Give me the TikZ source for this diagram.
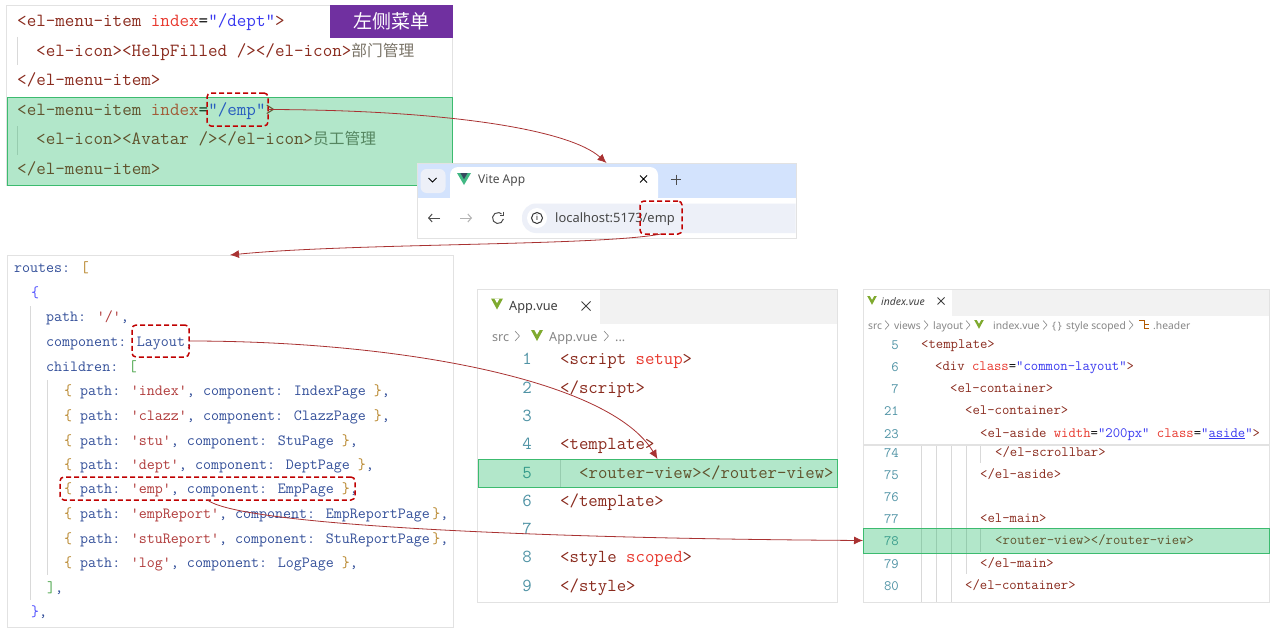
\documentclass[tikz,border=0pt]{standalone}
\usepackage{fontspec}
\usepackage{xcolor}
\setsansfont{Noto Sans}
\newfontfamily\cjk{Noto Sans CJK SC}
\usetikzlibrary{arrows.meta,positioning,calc}

\definecolor{tagbrown}{HTML}{8A2B1E}
\definecolor{attrred}{HTML}{E8392F}
\definecolor{strblue}{HTML}{3A3AF0}
\definecolor{keyblue}{HTML}{34509A}
\definecolor{strred}{HTML}{B03A3A}
\definecolor{bracegold}{HTML}{B8862B}
\definecolor{numteal}{HTML}{4F93A5}
\definecolor{guidegray}{HTML}{D9D9D9}
\definecolor{panelgray}{HTML}{E2E2E2}
\definecolor{rowgreen}{HTML}{00B050}
\definecolor{rowedge}{HTML}{3CBB6F}
\definecolor{dashred}{HTML}{C00000}
\definecolor{linkred}{HTML}{A93232}
\definecolor{crumbgray}{HTML}{868686}
\definecolor{cjkgray}{HTML}{7A7468}
\definecolor{tabblue}{HTML}{D3E3FD}
\definecolor{addrblue}{HTML}{EDF0F8}
\definecolor{menupurple}{HTML}{7030A0}
\definecolor{vueolive}{HTML}{7FAA2F}
\definecolor{vueteal}{HTML}{41B883}
\definecolor{vuenavy}{HTML}{35495E}

\newcommand{\tg}[1]{\textcolor{tagbrown}{#1}}
\newcommand{\at}[1]{\textcolor{attrred}{#1}}
\newcommand{\st}[1]{\textcolor{strblue}{#1}}
\newcommand{\ky}[1]{\textcolor{keyblue}{#1}}
\newcommand{\sr}[1]{\textcolor{strred}{#1}}
\newcommand{\bc}[1]{\textcolor{bracegold}{#1}}
\newcommand{\route}[3]{\bc{\{} \ky{path:} \sr{'#1'}\ky{,} \ky{component:} \ky{#2}#3\bc{\}}\ky{,}}

\begin{document}
\begin{tikzpicture}[
    x=1pt, y=-1pt,
    panel/.style={draw=panelgray, fill=white, line width=1pt, inner sep=0pt, outer sep=0pt, anchor=north west},
    menucode/.style={font=\fontsize{18.55}{20}\ttfamily, inner sep=0pt, anchor=base west},
    routecode/.style={font=\fontsize{15.55}{18}\ttfamily, inner sep=0pt, anchor=base west},
    appcode/.style={font=\fontsize{18.3}{20}\ttfamily, inner sep=0pt, anchor=base west},
    indexcode/.style={font=\fontsize{14.3}{16}\ttfamily, inner sep=0pt, anchor=base west},
    appnum/.style={font=\fontsize{18.3}{20}\ttfamily, text=numteal, inner sep=0pt, anchor=base},
    indexnum/.style={font=\fontsize{14.3}{16}\ttfamily, text=numteal, inner sep=0pt, anchor=base east},
    crumb/.style={font=\sffamily\fontsize{10.3}{12}\selectfont, text=crumbgray, inner sep=0pt, anchor=base west},
    appcrumb/.style={crumb, font=\sffamily\fontsize{12.6}{14}\selectfont},
    guide/.style={draw=guidegray, line width=1pt},
    chev/.style={draw=crumbgray, line width=.6pt},
    greenrow/.style={draw=rowedge, fill=rowgreen, fill opacity=.3, line width=.9pt, inner sep=0pt, outer sep=0pt, anchor=north west},
    redbox/.style={draw=dashred, dashed, dash pattern=on 5pt off 3pt, rounded corners=4pt, line width=1.5pt, inner sep=0pt, outer sep=0pt},
    link/.style={draw=linkred, line width=.8pt, -{Latex[length=9pt,width=8pt]}},
    vueicon/.pic={
      \fill[vueteal] (-7,-6) -- (7,-6) -- (0,6) -- cycle;
      \fill[vuenavy] (-3.6,-6) -- (3.6,-6) -- (0,.2) -- cycle;
    },
    vuefile/.pic={
      \fill[vueolive] (-6,-5) -- (6,-5) -- (0,6) -- cycle;
      \fill[white] (-2.6,-5) -- (2.6,-5) -- (0,-.4) -- cycle;
    },
  ]
    \useasboundingbox (0,0) rectangle (1280,634);

    % menu
    \node[panel, minimum width=446pt, minimum height=179pt] (menu) at (6,6) {};
    \draw[guide] (17,37) -- (17,65);
    \draw[guide] (17,126) -- (17,155);
    \node[menucode] (m1) at (17,27) {\tg{<el-menu-item} \at{index}=\st{"/dept"}\tg{>}};
    \node[menucode] (m2) at (36,57) {\tg{<el-icon><HelpFilled /></el-icon>}\textcolor{cjkgray}{\cjk\fontsize{15.7}{16}\selectfont 部门管理}};
    \node[menucode] (m3) at (17,85) {\tg{</el-menu-item>}};
    \node[menucode] (m4) at (17,115) {\tg{<el-menu-item} \at{index}=\st{"/emp"}\tg{>}};
    \node[menucode] (m5) at (36,144) {\tg{<el-icon><Avatar /></el-icon>}\textcolor{cjkgray}{\cjk\fontsize{15.7}{16}\selectfont 员工管理}};
    \node[menucode] (m6) at (17,174) {\tg{</el-menu-item>}};
    \node[greenrow, minimum width=445pt, minimum height=88pt] (menurow) at (7,97) {};
    \node[fill=menupurple, text=white, font=\cjk\fontsize{19}{20}\selectfont,
      minimum width=123pt, minimum height=33pt, inner sep=0pt, anchor=north west] (menutag) at (330,5) {左侧菜单};
    \node[redbox, minimum width=61pt, minimum height=33pt] (idxbox) at (237.5,109.5) {};

    % browser
    \node[panel, minimum width=379pt, minimum height=75pt] (browser) at (417,163) {};
    \fill[tabblue] (417.5,163.5) rectangle (795.5,198);
    \fill[white] (417.5,198) rectangle (795.5,237.5);
    \node[fill=addrblue, rounded corners=6pt, minimum width=25pt, minimum height=24pt, inner sep=0pt] (tabmenu) at (433,181) {};
    \draw[line width=1pt] (428.5,178) -- (432.5,182) -- (436.5,178);
    \fill[white, rounded corners=8pt] (450,167) rectangle (658,205);
    \pic at (464,179) {vueicon};
    \node[font=\sffamily\fontsize{12}{14}\selectfont, text=black!70, inner sep=0pt, anchor=west] (tabtitle) at (478,181) {Vite App};
    \draw[line width=1pt] (640,175.5) -- (647,182.5) (647,175.5) -- (640,182.5);
    \draw[line width=1pt, black!70] (671,179.5) -- (681,179.5) (676,174.5) -- (676,184.5);
    \draw[line width=1pt, black!70, -{Straight Barb[length=3.5pt,width=8pt]}] (440,218) -- (428,218);
    \draw[line width=1pt, black!30, -{Straight Barb[length=3.5pt,width=8pt]}] (460,218) -- (472,218);
    \draw[line width=1pt, black!70] (503.4,219) arc[start angle=10, end angle=310, radius=5.5];
    \draw[line width=1pt, black!70] (503.5,211.5) -- (503.5,215.5) -- (499.5,215.5);
    \begin{scope}
      \clip (417.5,198) rectangle (795.5,237.5);
      \fill[addrblue, rounded corners=14pt] (522,203.5) rectangle (830,233);
    \end{scope}
    \node[circle, fill=white, minimum size=20pt, inner sep=0pt] (infopad) at (537,218) {};
    \node[circle, draw=black!80, line width=1pt, minimum size=11pt, inner sep=0pt, font=\sffamily\bfseries\fontsize{7.5}{8}\selectfont] (infoicon) at (537,218) {i};
    \node[font=\sffamily\fontsize{12.9}{14}\selectfont, text=black!72, inner sep=0pt, anchor=west] (urltext) at (555,219) {localhost:5173/emp};
    \node[redbox, minimum width=42pt, minimum height=33pt] (urlbox) at (661,217.5) {};

    % routes
    \node[panel, minimum width=446pt, minimum height=372pt] (routes) at (7,255) {};
    \draw[guide] (30,306) -- (30,600);
    \draw[guide] (47,380) -- (47,575);
    \node[routecode] (r1) at (14,272) {\ky{routes:} \bc{[}};
    \node[routecode] (r2) at (31,297) {\textcolor{blue!70!white}{\{}};
    \node[routecode] (r3) at (46,321) {\ky{path:} \sr{'/'}\ky{,}};
    \node[routecode] (r4) at (46,346) {\ky{component:} \ky{Layout,}};
    \node[routecode] (r5) at (46,371) {\ky{children:} \textcolor{green!50!black!70}{[}};
    \node[routecode] (r6) at (64,395) {\route{index}{IndexPage}{ }};
    \node[routecode] (r7) at (64,420) {\route{clazz}{ClazzPage}{ }};
    \node[routecode] (r8) at (64,445) {\route{stu}{StuPage}{ }};
    \node[routecode] (r9) at (64,469) {\route{dept}{DeptPage}{ }};
    \node[routecode] (r10) at (64,493) {\route{emp}{EmpPage}{ }};
    \node[routecode] (r11) at (64,518) {\route{empReport}{EmpReportPage}{\hspace{2.5pt}}};
    \node[routecode] (r12) at (64,543) {\route{stuReport}{StuReportPage}{\hspace{2.5pt}}};
    \node[routecode] (r13) at (64,567) {\route{log}{LogPage}{ }};
    \node[routecode] (r14) at (47,592) {\textcolor{green!50!black!70}{]}\ky{,}};
    \node[routecode] (r15) at (31,616) {\textcolor{blue!70!white}{\}}\ky{,}};
    \node[redbox, minimum width=57pt, minimum height=32pt] (layoutbox) at (160.5,341) {};
    \node[redbox, minimum width=295pt, minimum height=23pt] (empbox) at (207.5,488.5) {};

    % App.vue
    \node[panel, minimum width=360pt, minimum height=313pt] (app) at (477,289) {};
    \fill[black!5] (600,289.5) rectangle (836.5,324);
    \pic at (497,303.5) {vuefile};
    \node[font=\sffamily\fontsize{12.7}{14}\selectfont, text=black!75, inner sep=0pt, anchor=west] (apptab) at (509,307) {App.vue};
    \draw[line width=.8pt, black!75] (581.5,301.5) -- (590.5,310.5) (590.5,301.5) -- (581.5,310.5);
    \node[appcrumb] (appc1) at (492,341) {src};
    \draw[chev] (515,331) -- (519.5,336) -- (515,341);
    \pic at (537,335) {vuefile};
    \node[appcrumb] (appc2) at (549,341) {App.vue};
    \draw[chev] (604,331) -- (608.5,336) -- (604,341);
    \node[appcrumb] (appc3) at (615,341) {...};
    \foreach \num/\yy in {1/364,2/393,3/421,4/449,5/478,6/506,7/534,8/562,9/591}
      \node[appnum] (an\num) at (527,\yy) {\num};
    \node[appcode] (a1) at (560,364) {\tg{<script} \at{setup}\tg{>}};
    \node[appcode] (a2) at (560,393) {\tg{</script>}};
    \node[appcode] (a4) at (560,449) {\tg{<template>}};
    \node[appcode] (a5) at (579,478) {\tg{<router-view></router-view>}};
    \node[appcode] (a6) at (560,506) {\tg{</template>}};
    \node[appcode] (a8) at (560,562) {\tg{<style} \at{scoped}\tg{>}};
    \node[appcode] (a9) at (560,591) {\tg{</style>}};
    \draw[guide] (560,459) -- (560,487);
    \node[greenrow, minimum width=359pt, minimum height=28pt] (approw) at (478,459) {};

    % index.vue
    \node[panel, minimum width=406pt, minimum height=313pt] (index) at (863,289) {};
    \fill[black!5] (952,289.5) rectangle (1268.5,316);
    \pic[scale=.8] at (872,300) {vuefile};
    \node[font=\sffamily\itshape\fontsize{10.4}{12}\selectfont, text=black!75, inner sep=0pt, anchor=west] (indextab) at (881,302) {index.vue};
    \draw[line width=.8pt, black!75] (937.5,297.5) -- (944.5,304.5) (944.5,297.5) -- (937.5,304.5);
    \node[crumb] (ic1) at (868,329) {src};
    \node[crumb] (ic2) at (894,329) {views};
    \node[crumb] (ic3) at (933,329) {layout};
    \pic[scale=.8] at (979,324) {vuefile};
    \node[crumb] (ic4) at (993,329) {index.vue};
    \node[crumb] (ic5) at (1052,329) {\{\,\}};
    \node[crumb] (ic6) at (1066,329) {style scoped};
    \node[crumb] (ic7) at (1153,329) {.header};
    \foreach \cx in {887,926,968,1045,1131}
      \draw[chev] (\cx-2,320.5) -- (\cx+2,325) -- (\cx-2,329.5);
    \draw[orange!70!black, line width=.8pt] (1139,320) -- (1144,320) -- (1144,328) -- (1149,328) (1144,324) -- (1149,324);
    \foreach \num/\yy in {5/349,6/371,7/393,21/415,23/438,74/457,75/479,76/501,77/523,78/545,79/568,80/590}
      \node[indexnum] (in\num) at (899,\yy) {\num};
    \node[indexcode] (i1) at (921,348) {\tg{<template>}};
    \node[indexcode] (i2) at (935,370) {\tg{<div} \at{class}=\st{"common-layout"}\tg{>}};
    \node[indexcode] (i3) at (950,392) {\tg{<el-container>}};
    \node[indexcode] (i4) at (965,414) {\tg{<el-container>}};
    \node[indexcode] (i5) at (980,437) {\tg{<el-aside} \at{width}=\st{"200px"} \at{class}=\st{"\underline{aside}"}\tg{>}};
    \draw[panelgray, line width=1.2pt] (863,445) -- (1269,445);
    \foreach \gx in {921,936,951}
      \draw[guide] (\gx,446) -- (\gx,602);
    \draw[guide] (966,446) -- (966,574);
    \draw[guide] (980,446) -- (980,463);
    \draw[guide] (980,529) -- (980,552);
    \node[indexcode] (i6) at (995,456) {\tg{</el-scrollbar>}};
    \node[indexcode] (i7) at (980,478) {\tg{</el-aside>}};
    \node[indexcode] (i8) at (980,522) {\tg{<el-main>}};
    \node[indexcode] (i9) at (995,544) {\tg{<router-view></router-view>}};
    \node[indexcode] (i10) at (980,567) {\tg{</el-main>}};
    \node[indexcode] (i11) at (965,589) {\tg{</el-container>}};
    \node[greenrow, minimum width=406pt, minimum height=25pt] (indexrow) at (863,528) {};

    % links
    \draw[link] (idxbox.east) .. controls (450,110) and (570,130) .. (browser.north);
    \draw[link] (urlbox.south) .. controls (600,246) and (350,243) .. (routes.north);
    \draw[link] (layoutbox.east) .. controls (400,341) and (610,380) .. (approw.north);
    \draw[link] (empbox.south) .. controls (235,522) and (480,538) .. (indexrow.west);
  \end{tikzpicture}
\end{document}
